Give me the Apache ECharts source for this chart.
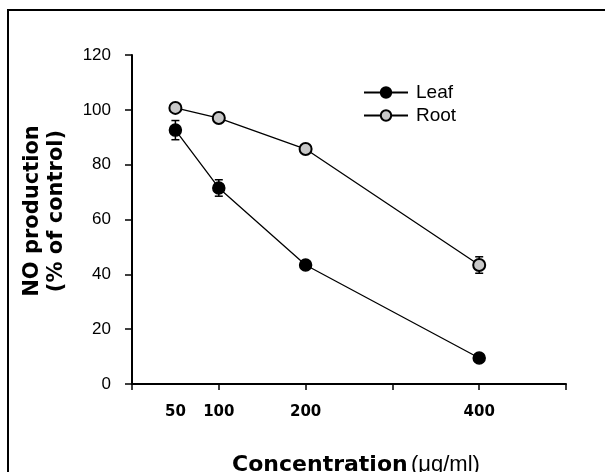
<!DOCTYPE html>
<html>
<head>
<meta charset="utf-8">
<script src="https://cdn.jsdelivr.net/npm/echarts@6/dist/echarts.min.js"></script>
<style>
html,body{margin:0;padding:0;background:#fff;}
#chart{width:605px;height:472px;}
</style>
</head>
<body>
<div id="chart"></div>
<script>
var concentrations = [50, 100, 200, 400];
var leafValues = [92.6, 71.5, 43.4, 9.5];
var leafErrors = [3.5, 3, 1, 1];
var rootValues = [100.7, 97, 85.7, 43.4];
var rootErrors = [1, 1, 1, 3];
var xTickLabels = [50, 100, 200, 400];
var yTicks = [0, 20, 40, 60, 80, 100, 120];

function pairs(xs, ys) { return xs.map(function (x, i) { return [x, ys[i]]; }); }
function errData(xs, ys, es) { return xs.map(function (x, i) { return [x, ys[i] - es[i], ys[i] + es[i]]; }); }

function errRender(params, api) {
  var x = api.value(0);
  var lo = api.coord([x, api.value(1)]);
  var hi = api.coord([x, api.value(2)]);
  var hw = 4;
  var st = { stroke: '#000', lineWidth: 1.5 };
  return {
    type: 'group',
    children: [
      { type: 'line', shape: { x1: lo[0], y1: lo[1], x2: hi[0], y2: hi[1] }, style: st },
      { type: 'line', shape: { x1: lo[0] - hw, y1: lo[1], x2: lo[0] + hw, y2: lo[1] }, style: st },
      { type: 'line', shape: { x1: hi[0] - hw, y1: hi[1], x2: hi[0] + hw, y2: hi[1] }, style: st }
    ]
  };
}

var chart = echarts.init(document.getElementById('chart'), null, { renderer: 'canvas' });
chart.setOption({
  animation: false,
  backgroundColor: '#fff',
  grid: { left: 132, right: 39, top: 55, bottom: 88, containLabel: false },
  xAxis: [
    {
      type: 'value', min: 0, max: 500, interval: 100, position: 'bottom',
      axisLine: { show: true, lineStyle: { color: '#000', width: 2 } },
      axisTick: { show: true, inside: false, length: 6, lineStyle: { color: '#000', width: 1.5 } },
      axisLabel: { show: false },
      splitLine: { show: false }
    },
    {
      type: 'value', min: 0, max: 500, interval: 50, position: 'bottom', offset: 0,
      axisLine: { show: false },
      axisTick: { show: false },
      splitLine: { show: false },
      axisLabel: {
        show: true, margin: 21, color: '#000',
        fontFamily: 'DejaVu Sans', fontWeight: 'bold', fontSize: 15,
        formatter: function (v) { return xTickLabels.indexOf(v) >= 0 ? String(v) : ''; }
      }
    }
  ],
  yAxis: {
    type: 'value', min: 0, max: 120, interval: 20,
    axisLine: { show: true, lineStyle: { color: '#000', width: 2 } },
    axisTick: { show: true, inside: false, length: 7, lineStyle: { color: '#000', width: 1.5 } },
    axisLabel: {
      margin: 21, color: '#000', fontFamily: 'Liberation Sans', fontSize: 17,
      formatter: function (v) { return yTicks.indexOf(v) >= 0 ? String(v) : ''; }
    },
    splitLine: { show: false }
  },
  legend: {
    orient: 'vertical', left: 358, top: 78,
    itemWidth: 44, itemHeight: 13, itemGap: 4,
    textStyle: { fontFamily: 'Liberation Sans', fontSize: 19, color: '#000', padding: [0, 0, 0, 3] },
    data: ['Leaf', 'Root']
  },
  series: [
    {
      name: 'Leaf Err', type: 'custom', renderItem: errRender,
      data: errData(concentrations, leafValues, leafErrors), z: 1, silent: true
    },
    {
      name: 'Root Err', type: 'custom', renderItem: errRender,
      data: errData(concentrations, rootValues, rootErrors), z: 1, silent: true
    },
    {
      name: 'Leaf', type: 'line', data: pairs(concentrations, leafValues),
      symbol: 'circle', symbolSize: 12, z: 3,
      lineStyle: { color: '#000', width: 1.3 },
      itemStyle: { color: '#000', borderColor: '#000', borderWidth: 1.5 }
    },
    {
      name: 'Root', type: 'line', data: pairs(concentrations, rootValues),
      symbol: 'circle', symbolSize: 12, z: 3,
      lineStyle: { color: '#000', width: 1.3 },
      itemStyle: { color: '#c8c8c8', borderColor: '#000', borderWidth: 2 }
    }
  ],
  graphic: [
    {
      type: 'polyline', z: 10,
      shape: { points: [[8, 480], [8, 10], [610, 10]] },
      style: { stroke: '#000', lineWidth: 2, fill: null }
    },
    {
      type: 'text', x: 45, y: 211, rotation: Math.PI / 2, z: 10,
      style: {
        text: 'NO production\n(% of control)',
        fontFamily: 'DejaVu Sans', fontWeight: 'bold', fontSize: 21, lineHeight: 24,
        fill: '#000', align: 'center', verticalAlign: 'middle'
      }
    },
    {
      type: 'text', x: 356, y: 465, z: 10,
      style: {
        text: '{a|Concentration} {b|(μg/ml)}',
        rich: {
          a: { fontFamily: 'DejaVu Sans', fontWeight: 'bold', fontSize: 22, fill: '#000' },
          b: { fontFamily: 'Liberation Sans', fontSize: 22, fill: '#000' }
        },
        align: 'center', verticalAlign: 'middle'
      }
    }
  ]
});
</script>
</body>
</html>
